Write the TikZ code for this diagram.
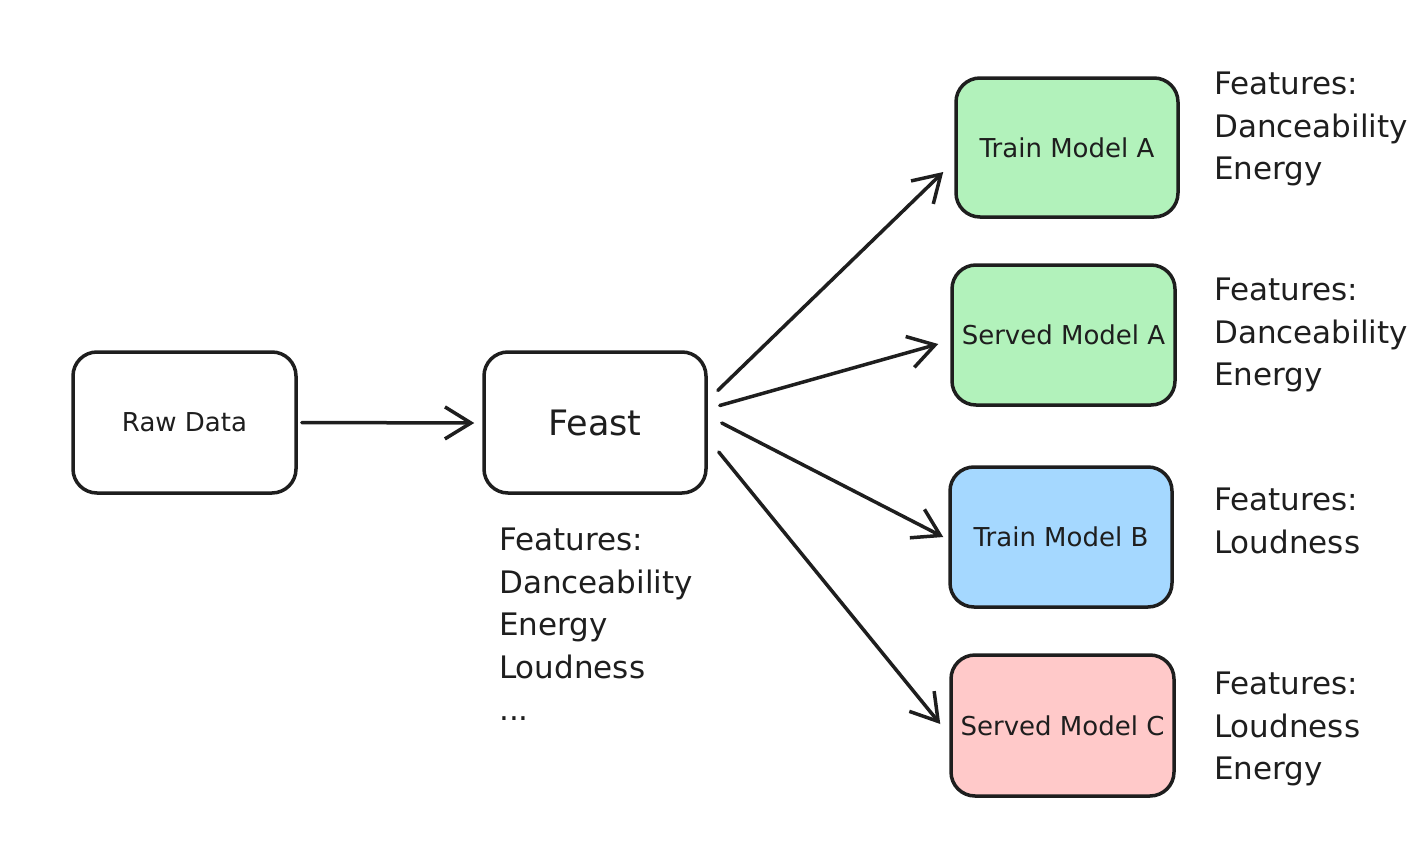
\documentclass[tikz,border=0pt]{standalone}
\usepackage{fontspec}
\setmainfont{DejaVu Sans}
\usetikzlibrary{arrows.meta}
\definecolor{ink}{HTML}{1E1E1E}
\definecolor{greenfill}{HTML}{B2F2BB}
\definecolor{bluefill}{HTML}{A5D8FF}
\definecolor{pinkfill}{HTML}{FFC9C9}
\tikzset{
  box/.style={draw=ink, line width=3.5pt, rounded corners=24pt, fill=white,
    text=ink, font=\fontsize{26}{30}\selectfont, inner sep=0pt},
  feat/.style={anchor=north west, inner sep=0pt, align=left, text=ink,
    font=\fontsize{31}{42.5}\selectfont},
  arr/.style={draw=ink, line width=3.5pt, line cap=round, line join=round,
    -{Straight Barb[length=26pt,width=32pt,line width=3.5pt]}}
}
\begin{document}
\begin{tikzpicture}[x=1pt,y=-1pt]
\useasboundingbox (0,0) rectangle (1428,862);
\node[box, minimum width=223pt, minimum height=141pt] (raw) at (184.5,422.5) {Raw Data};
\node[box, minimum width=222pt, minimum height=141pt, font=\fontsize{35}{40}\selectfont] (feast) at (595,422.5) {Feast};
\node[box, fill=greenfill, minimum width=222pt, minimum height=139pt] (tma) at (1067,147.5) {Train Model A};
\node[box, fill=greenfill, minimum width=223pt, minimum height=140pt] (sma) at (1063.5,335) {Served Model A};
\node[box, fill=bluefill, minimum width=222pt, minimum height=140pt] (tmb) at (1061,537) {Train Model B};
\node[box, fill=pinkfill, minimum width=223pt, minimum height=141pt] (smc) at (1062.5,725.5) {Served Model C};

\node[feat] (ffeast) at (499,528) {Features:\\Danceability\\Energy\\Loudness\\...};
\node[feat] (ftma) at (1214,72) {Features:\\Danceability\\Energy};
\node[feat] (fsma) at (1214,278) {Features:\\Danceability\\Energy};
\node[feat] (ftmb) at (1214,488) {Features:\\Loudness};
\node[feat] (fsmc) at (1214,672) {Features:\\Loudness\\Energy};

\draw[arr] ([xshift=4pt]raw.east) -- ([shift={(-8,0.5)}]feast.west);
\draw[arr] ([shift={(10,-32)}]feast.east) -- ([shift={(-11,24.5)}]tma.west);
\draw[arr] ([shift={(12,-17)}]feast.east) -- ([shift={(-12,9)}]sma.west);
\draw[arr] ([shift={(14,0.5)}]feast.east) -- ([shift={(-5,0)}]tmb.west);
\draw[arr] ([shift={(11,29.5)}]feast.east) -- ([shift={(-9,-1.5)}]smc.west);
\end{tikzpicture}
\end{document}
